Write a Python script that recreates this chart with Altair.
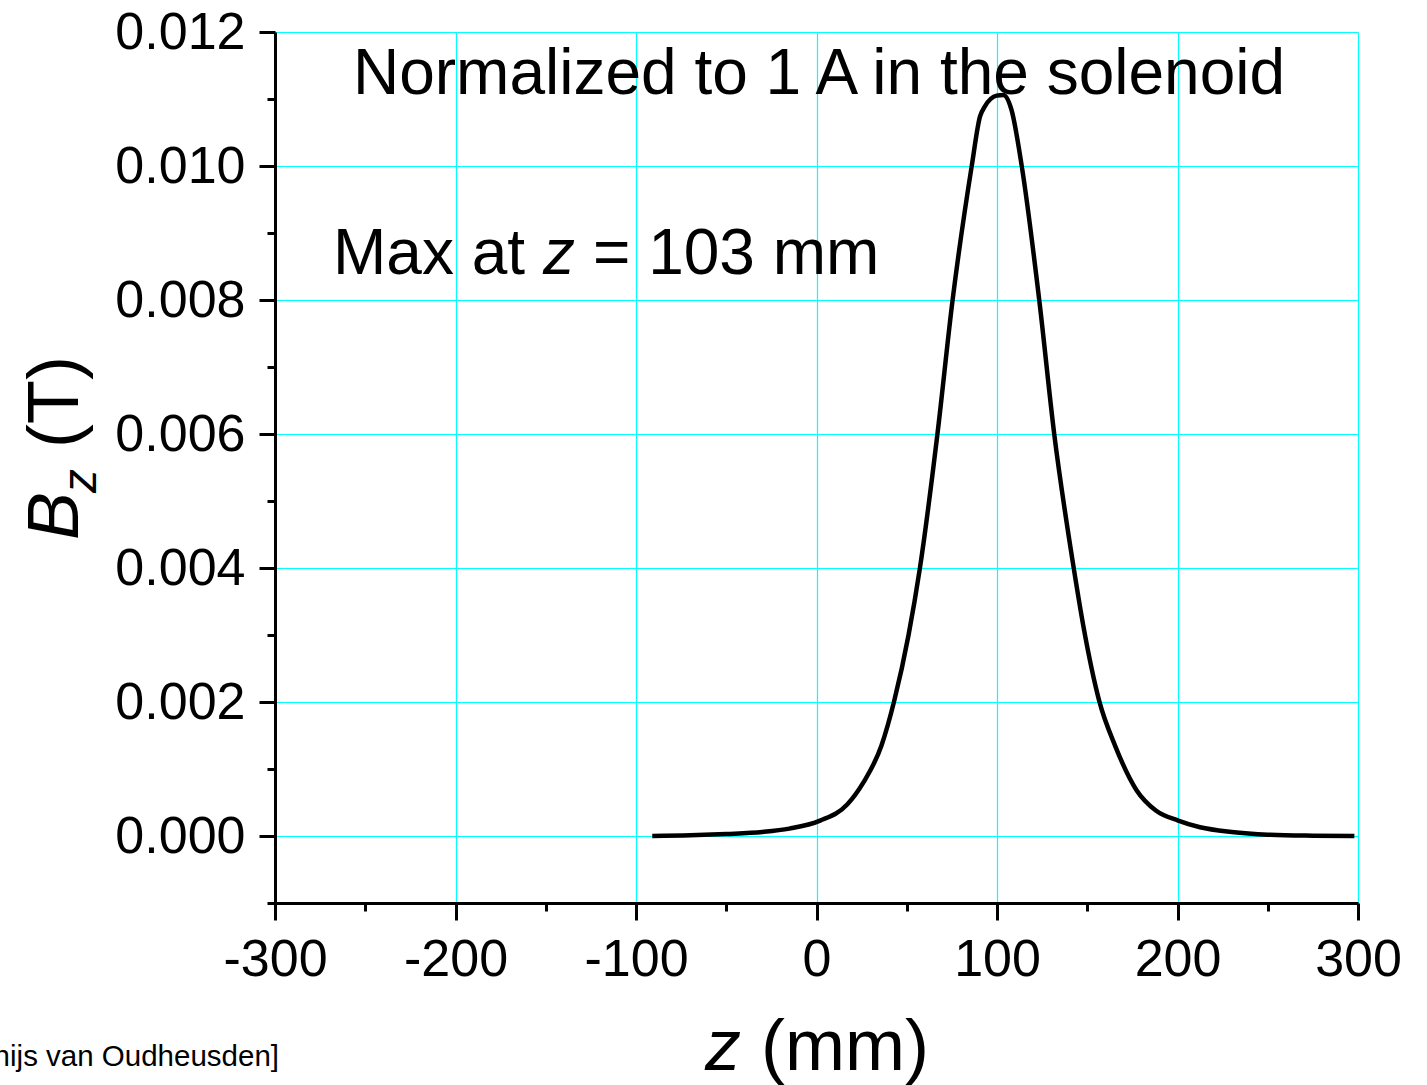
import altair as alt
import pandas as pd

# ---- data ----
z_mm = [-91, -70, -50, -30, -15, 2, 17, 26, 36, 43, 51, 57.3, 67, 75.4, 86,
        90.6, 93.3, 99.8, 103.5, 108, 113.7, 123.4, 131.7, 142.5, 147.8,
        156.7, 165.4, 177.4, 188, 200.4, 212.5, 230, 250, 275, 298]
bz_T = [0.0, 0.00001, 0.00003, 0.00006, 0.00011, 0.00023, 0.00047, 0.0008,
        0.00135, 0.00201, 0.00300, 0.004, 0.006, 0.008, 0.010,
        0.01074, 0.01089, 0.01105, 0.01106, 0.01084, 0.010, 0.008, 0.006,
        0.004, 0.00314, 0.00201, 0.00135, 0.00068, 0.00038, 0.00023,
        0.00013, 0.00006, 0.00002, 0.000005, 0.0]

x_major = [-300, -200, -100, 0, 100, 200, 300]
x_minor = [-250, -150, -50, 50, 150, 250]
y_major = [0.000, 0.002, 0.004, 0.006, 0.008, 0.010, 0.012]
y_minor = [-0.001, 0.001, 0.003, 0.005, 0.007, 0.009, 0.011]

FONT = "Liberation Sans"
W, H = 1083, 871
CYAN = "#00FFFF"

df = pd.DataFrame({"z": z_mm, "Bz": bz_T})
one = pd.DataFrame({"a": [0]})

x_scale = alt.Scale(domain=[-300, 300], nice=False, zero=False)
y_scale = alt.Scale(domain=[-0.001, 0.012], nice=False, zero=False)

x_axis = alt.Axis(values=x_major, title=None, orient="bottom", grid=True,
                  gridColor=CYAN, gridOpacity=1, gridWidth=1.2, tickSize=17,
                  tickWidth=3, tickColor="black", domainColor="black",
                  domainWidth=3, labelFont=FONT, labelFontSize=52,
                  labelColor="black", labelPadding=14, labelFlush=False,
                  labelOverlap=False, labelExpr="'' + datum.value")
y_axis = alt.Axis(values=y_major, title=None, orient="left", grid=True,
                  gridColor=CYAN, gridOpacity=1, gridWidth=1.2, tickSize=16,
                  tickWidth=3, tickColor="black", domainColor="black",
                  domainWidth=3, labelFont=FONT, labelFontSize=52,
                  labelColor="black", labelPadding=14, labelFlush=False,
                  labelOverlap=False, format=".3f")

line = alt.Chart(df).mark_line(color="black", strokeWidth=4.5,
                               interpolate="monotone").encode(
    x=alt.X("z:Q", scale=x_scale, axis=x_axis),
    y=alt.Y("Bz:Q", scale=y_scale, axis=y_axis),
)

x_axis_minor = alt.Axis(values=x_minor, title=None, orient="bottom", grid=False,
                        tickSize=8, tickWidth=3, tickColor="black",
                        labels=False, domain=False)
y_axis_minor = alt.Axis(values=y_minor, title=None, orient="left", grid=False,
                        tickSize=8, tickWidth=3, tickColor="black",
                        labels=False, domain=False)

minor = alt.Chart(df).mark_line(strokeOpacity=0).encode(
    x=alt.X("z:Q", scale=x_scale, axis=x_axis_minor),
    y=alt.Y("Bz:Q", scale=y_scale, axis=y_axis_minor),
)


def txt(text, x, y, size, style="normal", align="left", angle=0):
    kw = dict(text=text, font=FONT, fontSize=size, fontStyle=style,
              color="black", align=align, baseline="alphabetic")
    if angle:
        kw["angle"] = angle
    return alt.Chart(one).mark_text(**kw).encode(x=alt.value(x), y=alt.value(y))


annots = [
    txt("Normalized to 1 A in the solenoid", 544, 62, 64, align="center"),
    txt("Max at", 58, 242, 64),
    txt("z", 268, 242, 64, style="italic"),
    txt("= 103 mm", 318, 242, 64),
    # x-axis title
    txt("z", 430, 1038, 72, style="italic"),
    txt("(mm)", 486, 1038, 72),
    # y-axis title (rotated)
    txt("B", -197, 508, 72, style="italic", angle=270),
    txt("z", -179, 461, 48, style="italic", angle=270),
    txt("(T)", -197, 416, 72, angle=270),
    # credit (cut off at the left edge, as in the reference)
    txt("[Thijs van Oudheusden]", 4, 1034, 29.5, align="right"),
]

chart = alt.layer(line, minor, *annots).resolve_axis(
    x="independent", y="independent"
).properties(
    width=W, height=H,
    autosize="none",
    padding={"left": 275, "top": 32, "right": 69, "bottom": 182},
).configure_view(
    stroke="black", strokeWidth=3
).configure(background="white")

chart.save("out.html", embed_options={"renderer": "svg", "actions": False})
